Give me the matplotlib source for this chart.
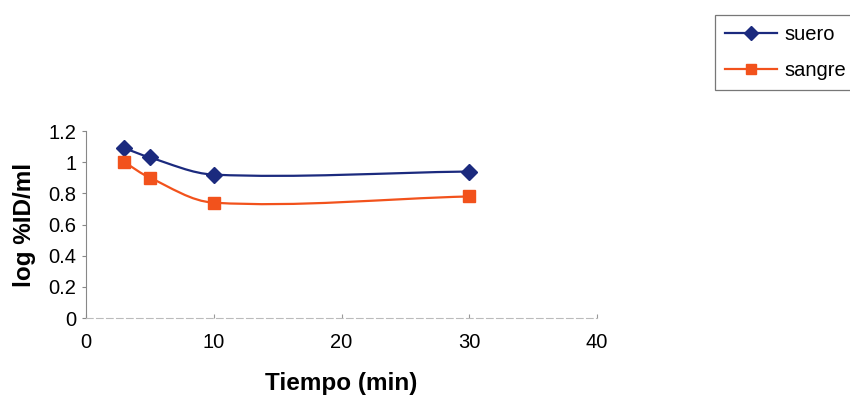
import matplotlib
matplotlib.use("Agg")
import matplotlib.pyplot as plt
from matplotlib.path import Path
from matplotlib.patches import PathPatch
import numpy as np

plt.rcParams['font.family'] = ['Liberation Sans', 'DejaVu Sans']

tiempo = [3, 5, 10, 30]
suero = [1.09, 1.03, 0.92, 0.94]
sangre = [1.00, 0.90, 0.74, 0.78]
xticks = [0, 10, 20, 30, 40]
yticks = [0, 0.2, 0.4, 0.6, 0.8, 1.0, 1.2]
ytick_labels = ['0', '0.2', '0.4', '0.6', '0.8', '1', '1.2']

blue = '#1b2a7e'
orange = '#f2521c'

W, H = 850, 396
fig = plt.figure(figsize=(W / 100, H / 100), dpi=100)
ax = fig.add_axes([86 / W, 78 / H, 511 / W, 187 / H])
ax.set_xlim(0, 40)
ax.set_ylim(0, 1.2)


def smooth_path(xs, ys):
    # work in display space so the curve looks natural on screen
    pts = ax.transData.transform(np.column_stack([xs, ys]).astype(float))
    n = len(pts)
    dirs = []
    for i in range(n):
        a = pts[i - 1] if i > 0 else pts[i]
        b = pts[i + 1] if i < n - 1 else pts[i]
        d = b - a
        dirs.append(d / np.hypot(*d))
    verts = [pts[0]]
    codes = [Path.MOVETO]
    for i in range(n - 1):
        L = np.hypot(*(pts[i + 1] - pts[i]))
        c1 = pts[i] + dirs[i] * L / 3
        c2 = pts[i + 1] - dirs[i + 1] * L / 3
        verts += [c1, c2, pts[i + 1]]
        codes += [Path.CURVE4] * 3
    verts = ax.transData.inverted().transform(np.array(verts))
    return Path(verts, codes)


for ys, col, mk, ms, lab in [(suero, blue, 'D', 8.5, 'suero'), (sangre, orange, 's', 8.5, 'sangre')]:
    patch = PathPatch(smooth_path(tiempo, ys), facecolor='none', edgecolor=col, lw=1.6, zorder=2)
    ax.add_patch(patch)
    ax.plot(tiempo, ys, linestyle='none', marker=mk, markersize=ms, color=col, zorder=3)
    ax.plot([], [], color=col, lw=1.6, marker=mk, markersize=7, label=lab)

ax.set_xticks(xticks)
ax.set_yticks(yticks)
ax.set_yticklabels(ytick_labels)

for s in ['top', 'right']:
    ax.spines[s].set_visible(False)
ax.spines['left'].set_color('#888888')
ax.spines['left'].set_linewidth(0.8)
ax.spines['bottom'].set_color('#bbbbbb')
ax.spines['bottom'].set_linewidth(0.8)
ax.spines['bottom'].set_linestyle((0, (6, 3)))

ax.tick_params(axis='y', direction='out', length=3, color='#888888', labelsize=14.5, pad=4)
ax.tick_params(axis='x', direction='in', length=3, color='#999999', labelsize=14.5, pad=11)

ax.set_xlabel('Tiempo (min)', fontsize=17.5, fontweight='bold', labelpad=14)
ax.set_ylabel('log %ID/ml', fontsize=17.5, fontweight='bold', labelpad=9)

leg = fig.legend(loc='upper left', bbox_to_anchor=(715 / W, 1 - 15 / H),
                 frameon=True, fancybox=False, fontsize=14.5, handlelength=2.6,
                 handletextpad=0.35, borderpad=0.5, labelspacing=0.85, borderaxespad=0)
leg.get_frame().set_edgecolor('#555555')
leg.get_frame().set_linewidth(0.9)

fig.savefig('out.png', dpi=100)
